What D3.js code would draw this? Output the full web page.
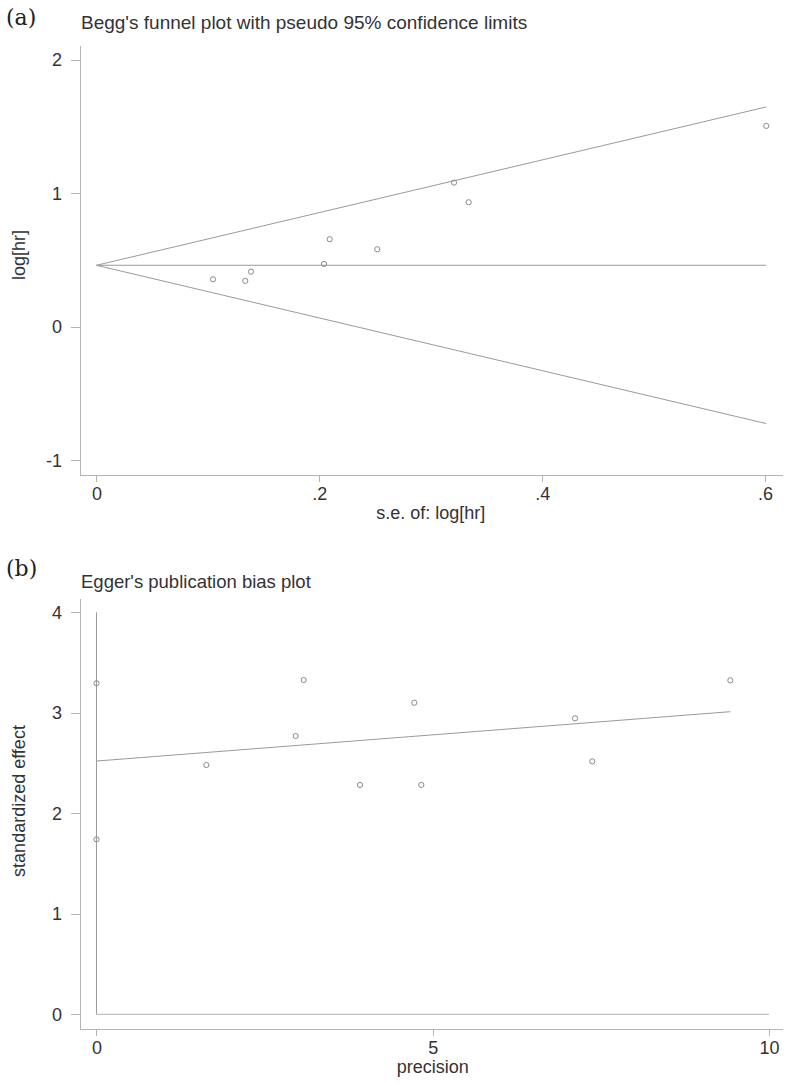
<!DOCTYPE html>
<html>
<head>
<meta charset="utf-8">
<script src="https://cdn.jsdelivr.net/npm/d3@7"></script>
<style>
  body { margin: 0; background: #fff; }
  svg text { font-family: "Liberation Sans", Arial, sans-serif; fill: #333; }
  .panel-tag { font-family: "DejaVu Serif", "Liberation Serif", serif; fill: #222; }
</style>
</head>
<body>
<svg id="chart"></svg>
<script>
// (a) Begg's funnel plot
const beggSe     = [0.1046, 0.1335, 0.1387, 0.2042, 0.2093, 0.2520, 0.3209, 0.3340, 0.6011];
const beggLogHr  = [0.357, 0.345, 0.414, 0.472, 0.657, 0.582, 1.081, 0.934, 1.506];
const beggPooled = 0.462;
const beggLimitSe = [0, 0.6011];
const beggUpper   = [0.462, 1.648];
const beggLower   = [0.462, -0.724];
const beggXTicks = [0, 0.2, 0.4, 0.6];
const beggYTicks = [-1, 0, 1, 2];

// (b) Egger's publication bias plot
const eggerPrecision = [0, 0, 1.633, 2.962, 3.081, 3.918, 4.726, 4.830, 7.115, 7.372, 9.425];
const eggerEffect    = [3.294, 1.741, 2.480, 2.769, 3.326, 2.282, 3.100, 2.282, 2.945, 2.517, 3.323];
const eggerFitX = [0, 9.425];
const eggerFitY = [2.52, 3.011];
const eggerXTicks = [0, 5, 10];
const eggerYTicks = [0, 1, 2, 3, 4];

const W = 787, H = 1086;
const lineColor = "#9a9a9a", axisColor = "#b4b4b4", markColor = "#8a8a8a";

const svg = d3.select("#chart").attr("width", W).attr("height", H);

const fmtTick = d => {
  if (d === 0) return "0";
  let s = String(d);
  return s.replace(/^0\./, ".").replace(/^-0\./, "-.");
};

const line = d3.line();

function drawAxes(g, x, y, xTicks, yTicks, xLabel, yLabel, yLabelMid) {
  const xAxis = g.append("g")
    .attr("transform", `translate(0,${y.range()[0]})`)
    .call(d3.axisBottom(x).tickValues(xTicks).tickFormat(fmtTick)
      .tickSizeInner(7).tickSizeOuter(0).tickPadding(5));
  const yAxis = g.append("g")
    .attr("transform", `translate(${x.range()[0]},0)`)
    .call(d3.axisLeft(y).tickValues(yTicks).tickFormat(fmtTick)
      .tickSizeInner(9).tickSizeOuter(0).tickPadding(9));
  [xAxis, yAxis].forEach(a => {
    a.attr("font-size", null).attr("font-family", null);
    a.selectAll("path, line").attr("stroke", axisColor).attr("shape-rendering", "crispEdges");
    a.selectAll("text").attr("fill", "#333").style("font-size", "18px");
  });

  g.append("text")
    .attr("x", (x(xTicks[0]) + x(xTicks[xTicks.length - 1])) / 2)
    .attr("y", y.range()[0] + 44)
    .attr("text-anchor", "middle")
    .style("font-size", "18px")
    .text(xLabel);

  g.append("text")
    .attr("transform", `translate(25,${yLabelMid}) rotate(-90)`)
    .attr("text-anchor", "middle")
    .style("font-size", "18px")
    .text(yLabel);
}

// ---------- panel (a) ----------
{
  const g = svg.append("g");
  const x = d3.scaleLinear().domain([-0.0148, 0.6152]).range([80, 782]);
  const y = d3.scaleLinear().domain([-1.109, 2.112]).range([475, 45]);

  g.append("text").attr("class", "panel-tag").attr("x", 6).attr("y", 25)
    .style("font-size", "22px").text("(a)");
  g.append("text").attr("x", 81).attr("y", 28.5)
    .style("font-size", "19px")
    .text("Begg's funnel plot with pseudo 95% confidence limits");

  drawAxes(g, x, y, beggXTicks, beggYTicks, "s.e. of: log[hr]", "log[hr]", 255);

  const limits = [beggUpper, beggLower, [beggPooled, beggPooled]];
  g.selectAll(".limit")
    .data(limits)
    .join("path")
    .attr("class", "limit")
    .attr("d", ys => line(beggLimitSe.map((s, i) => [x(s), y(ys[i])])))
    .attr("fill", "none")
    .attr("stroke", lineColor)
    .attr("stroke-width", 1);

  g.selectAll(".pt")
    .data(beggSe.map((s, i) => ({ s, v: beggLogHr[i] })))
    .join("circle")
    .attr("class", "pt")
    .attr("cx", d => x(d.s))
    .attr("cy", d => y(d.v))
    .attr("r", 2.6)
    .attr("fill", "none")
    .attr("stroke", markColor)
    .attr("stroke-width", 1);
}

// ---------- panel (b) ----------
{
  const g = svg.append("g");
  const x = d3.scaleLinear().domain([-0.245, 10.193]).range([80, 782]);
  const y = d3.scaleLinear().domain([-0.146, 4.142]).range([1029, 598]);

  g.append("text").attr("class", "panel-tag").attr("x", 6).attr("y", 576)
    .style("font-size", "22px").text("(b)");
  g.append("text").attr("x", 81).attr("y", 587.5)
    .style("font-size", "18.5px")
    .text("Egger's publication bias plot");

  drawAxes(g, x, y, eggerXTicks, eggerYTicks, "precision", "standardized effect", 801);

  // reference lines at precision = 0 and effect = 0
  const yMax = eggerYTicks[eggerYTicks.length - 1];
  const xMax = eggerXTicks[eggerXTicks.length - 1];
  g.append("path")
    .attr("d", line([[x(0), y(0)], [x(0), y(yMax)]]))
    .attr("stroke", lineColor).attr("fill", "none");
  g.append("path")
    .attr("d", line([[x(0), y(0)], [x(xMax), y(0)]]))
    .attr("stroke", axisColor).attr("fill", "none");

  g.append("path")
    .attr("d", line(eggerFitX.map((p, i) => [x(p), y(eggerFitY[i])])))
    .attr("fill", "none")
    .attr("stroke", lineColor)
    .attr("stroke-width", 1);

  g.selectAll(".pt")
    .data(eggerPrecision.map((p, i) => ({ p, v: eggerEffect[i] })))
    .join("circle")
    .attr("class", "pt")
    .attr("cx", d => x(d.p))
    .attr("cy", d => y(d.v))
    .attr("r", 2.6)
    .attr("fill", "none")
    .attr("stroke", markColor)
    .attr("stroke-width", 1);
}
</script>
</body>
</html>
